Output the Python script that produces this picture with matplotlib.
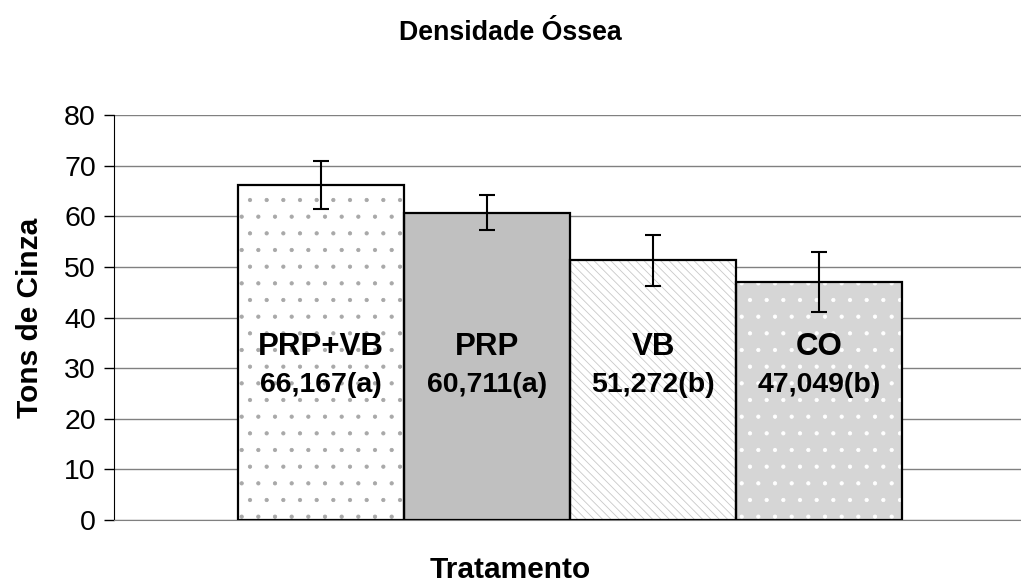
import numpy as np
import matplotlib
matplotlib.use('Agg')
from matplotlib import pyplot as plt

### dados
grupos  = ['PRP+VB', 'PRP', 'VB', 'CO']
medias  = [66.167, 60.711, 51.272, 47.049]
erros   = [4.7, 3.5, 5.0, 5.9]
letras  = ['a', 'a', 'b', 'b']
yticks  = [0, 10, 20, 30, 40, 50, 60, 70, 80]

# estilo de cada barra: (cor de fundo, cor da textura, textura)
estilos = [('white', '#a8a8a8', '.'),
           ('#c0c0c0', '#c0c0c0', ''),
           ('white', '#c8c8c8', '\\\\\\\\'),
           ('#d6d6d6', 'white', '.')]

plt.rcParams['font.family'] = ['Liberation Sans', 'DejaVu Sans']
plt.rcParams['hatch.linewidth'] = 0.6

fig = plt.figure(figsize=(10.21, 5.85), dpi=100)
ax = fig.add_axes([0.1117, 0.1111, 0.8883, 0.6923])

x = np.arange(len(grupos))
for i in range(len(grupos)):
    fc, hc, h = estilos[i]
    ax.bar(x[i], medias[i], width=1.0, color=fc, edgecolor=hc, hatch=h, linewidth=0, zorder=2)
ax.bar(x, medias, width=1.0, fill=False, edgecolor='black', linewidth=1.6, zorder=3)
ax.errorbar(x, medias, yerr=erros, fmt='none', ecolor='black', elinewidth=1.5,
            capsize=5.5, capthick=1.5, zorder=4)

for i in range(len(grupos)):
    ax.text(x[i], 34.2, grupos[i], ha='center', va='center', fontsize=22.5, fontweight='bold', zorder=5)
    rot = '{:.3f}'.format(medias[i]).replace('.', ',') + '(' + letras[i] + ')'
    ax.text(x[i], 26.7, rot, ha='center', va='center', fontsize=20.5, fontweight='bold', zorder=5)

ax.set_xlim(-1.247, 4.217)
ax.set_ylim(0, 80)
ax.set_yticks(yticks)
ax.set_xticks([])
ax.grid(True, axis='y', color='#808080', linewidth=1.0, zorder=0)
ax.set_axisbelow(True)
for s in ['top', 'right']:
    ax.spines[s].set_visible(False)
ax.spines['bottom'].set_color('#808080')
ax.spines['left'].set_color('black')
ax.tick_params(axis='y', labelsize=20.5, length=7, width=1.0, direction='out', pad=6)

fig.text(0.5, 0.943, 'Densidade Óssea', ha='center', va='center', fontsize=19.3, fontweight='bold')
fig.text(0.5, 0.026, 'Tratamento', ha='center', va='center', fontsize=21.5, fontweight='bold')
fig.text(0.029, 0.456, 'Tons de Cinza', ha='center', va='center', rotation=90, fontsize=21.5, fontweight='bold')

plt.savefig('out.png', dpi=100)
